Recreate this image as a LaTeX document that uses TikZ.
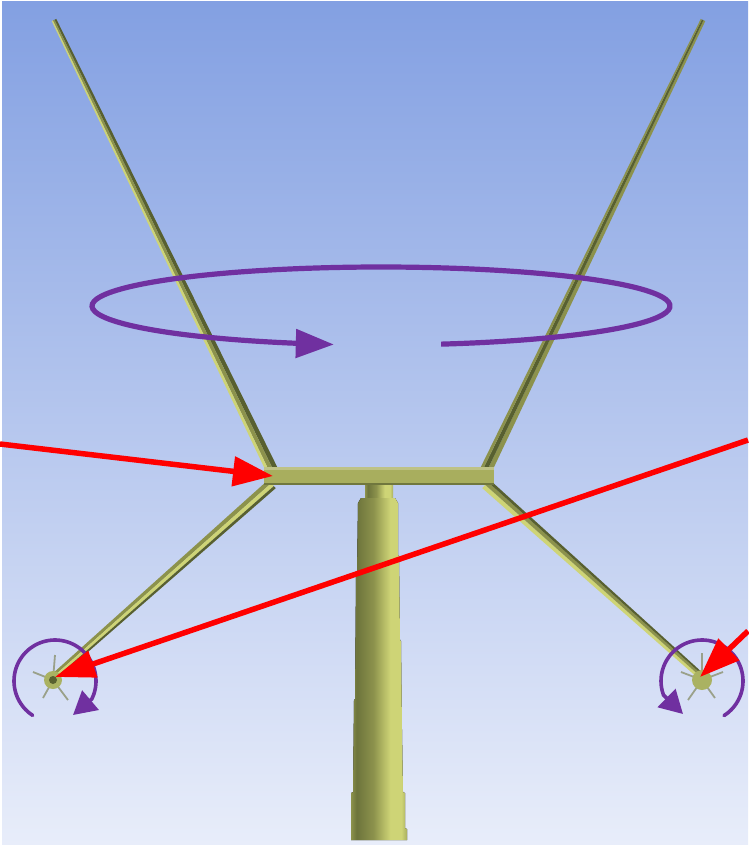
\documentclass[tikz,border=0pt]{standalone}
\usepackage{tikz}
\usetikzlibrary{arrows.meta,calc}
\definecolor{SkyTop}{RGB}{131,160,226}
\definecolor{SkyBot}{RGB}{232,237,250}
\definecolor{BladeDark}{RGB}{88,96,48}
\definecolor{BladeMid}{RGB}{140,146,76}
\definecolor{BladeLight}{RGB}{206,212,118}
\definecolor{BeamOlive}{RGB}{168,174,94}
\definecolor{HubOlive}{RGB}{170,178,98}
\definecolor{SpokeGray}{RGB}{140,146,112}
\definecolor{SpinPurple}{RGB}{112,48,160}
\pgfdeclarehorizontalshading{towershade}{100bp}{
  color(0bp)=(BladeMid); color(25bp)=(BladeMid); color(30bp)=(BladeDark!60!BladeMid);
  color(45bp)=(BladeMid); color(60bp)=(BladeLight); color(70bp)=(BladeLight);
  color(75bp)=(BeamOlive); color(100bp)=(BeamOlive)}
% one tapered blade, cut in three long strips across its width
\newcommand{\bladeshape}[9]{
  \coordinate (p) at (#1,#2);
  \coordinate (q) at (#3,#4);
  \foreach \a/\b/\c in {-.5/-.1/#7,-.1/.25/#8,.25/.5/#9}{
    \fill[\c] ($(p)!#5*\a*#6 pt!90:(q)$) -- ($(p)!#5*\b*#6 pt!90:(q)$)
      -- ($(q)!-#5*\b pt!90:(p)$) -- ($(q)!-#5*\a pt!90:(p)$) -- cycle;
  }
}
\begin{document}
\begin{tikzpicture}[x=1pt,y=-1pt,
  redarrow/.style={draw=red,line width=5.5pt},
  spin/.style={draw=SpinPurple,line width=3.6pt,line cap=round},
  spoke/.style={draw=SpokeGray,line width=1.8pt,opacity=.8},
]
\useasboundingbox (0,0) rectangle (748,845);
\fill[white] (0,0) rectangle (748,845);
\fill[top color=SkyTop,bottom color=SkyBot] (2,2) rectangle (748,845);

% blades
\bladeshape{272}{470}{54}{20}{5}{2.4}{BladeDark}{BladeMid}{BladeLight}
\bladeshape{486}{470}{703}{20}{5}{2.4}{BladeMid}{BladeDark}{BladeMid}
\bladeshape{272}{484}{54}{677}{7}{1.6}{BladeMid}{BladeLight}{BladeDark}
\bladeshape{486}{484}{702}{677}{7}{1.6}{BladeLight}{BladeMid}{BladeDark}

% tower
\fill[shading=towershade] (365,484) -- (393,484) -- (393,502) -- (365,502) -- cycle;
\fill[shading=towershade] (361,498) -- (395,498) -- (398,503) -- (398,555) -- (399,556)
  -- (400,640) -- (401,641) -- (402,730) -- (403,792) -- (405,793) -- (405,828)
  -- (407,829) -- (407,840) -- (351,840) -- (351,793) -- (353,792) -- (354,700)
  -- (355,699) -- (356,575) -- (357,574) -- (358,503) -- cycle;

% beam
\fill[BeamOlive] (264,468) rectangle (494,485);
\fill[BeamOlive!75!white] (264,467) rectangle (494,470);
\fill[BladeDark!70!BeamOlive] (264,483) rectangle (494,485);

% left hub
\coordinate (lefthub) at (53,680);
\foreach \tx/\ty in {55/655,33/672,43/698,68/700}{
  \draw[spoke] (lefthub) -- (\tx,\ty);
}
\fill[HubOlive] (lefthub) circle (9);
\fill[BladeDark] (lefthub) circle (4);

% right hub
\coordinate (righthub) at (702,680);
\foreach \tx/\ty in {702/653,681/672,688/700,715/698,723/672}{
  \draw[spoke] (righthub) -- (\tx,\ty);
}
\fill[HubOlive] (righthub) circle (10);

% rotation marks
\draw[SpinPurple,line width=5.2pt,-{Triangle[length=38pt,width=28pt]}]
  plot[domain=78:-260.6,samples=90,smooth] ({381+289*cos(\x)},{306+39*sin(\x)});
\draw[spin,-{Triangle[length=23pt,width=25pt]}]
  plot[domain=123:386,samples=40,smooth] ({55+41*cos(\x)},{681+41*sin(\x)}) -- (73,715);
\draw[spin,-{Triangle[length=23pt,width=25pt]}]
  plot[domain=57.5:-200,samples=40,smooth] ({702+41*cos(\x)},{681+41*sin(\x)}) -- (683,714);

% red pointers
\coordinate (beamend) at (273,476);
\coordinate (beamfree) at (0,444);
\coordinate (hubfreeA) at (748,440);
\coordinate (hubtipA) at (55,677);
\coordinate (hubfreeB) at (748,631);
\coordinate (hubtipB) at (700,677);
\draw[redarrow,-{Triangle[length=40pt,width=29pt]}] (beamfree) -- (beamend);
\draw[redarrow,-{Triangle[length=40pt,width=27pt]}] (hubfreeA) -- (hubtipA);
\draw[redarrow,-{Triangle[length=40pt,width=29pt]}] (hubfreeB) -- (hubtipB);
\end{tikzpicture}
\end{document}
